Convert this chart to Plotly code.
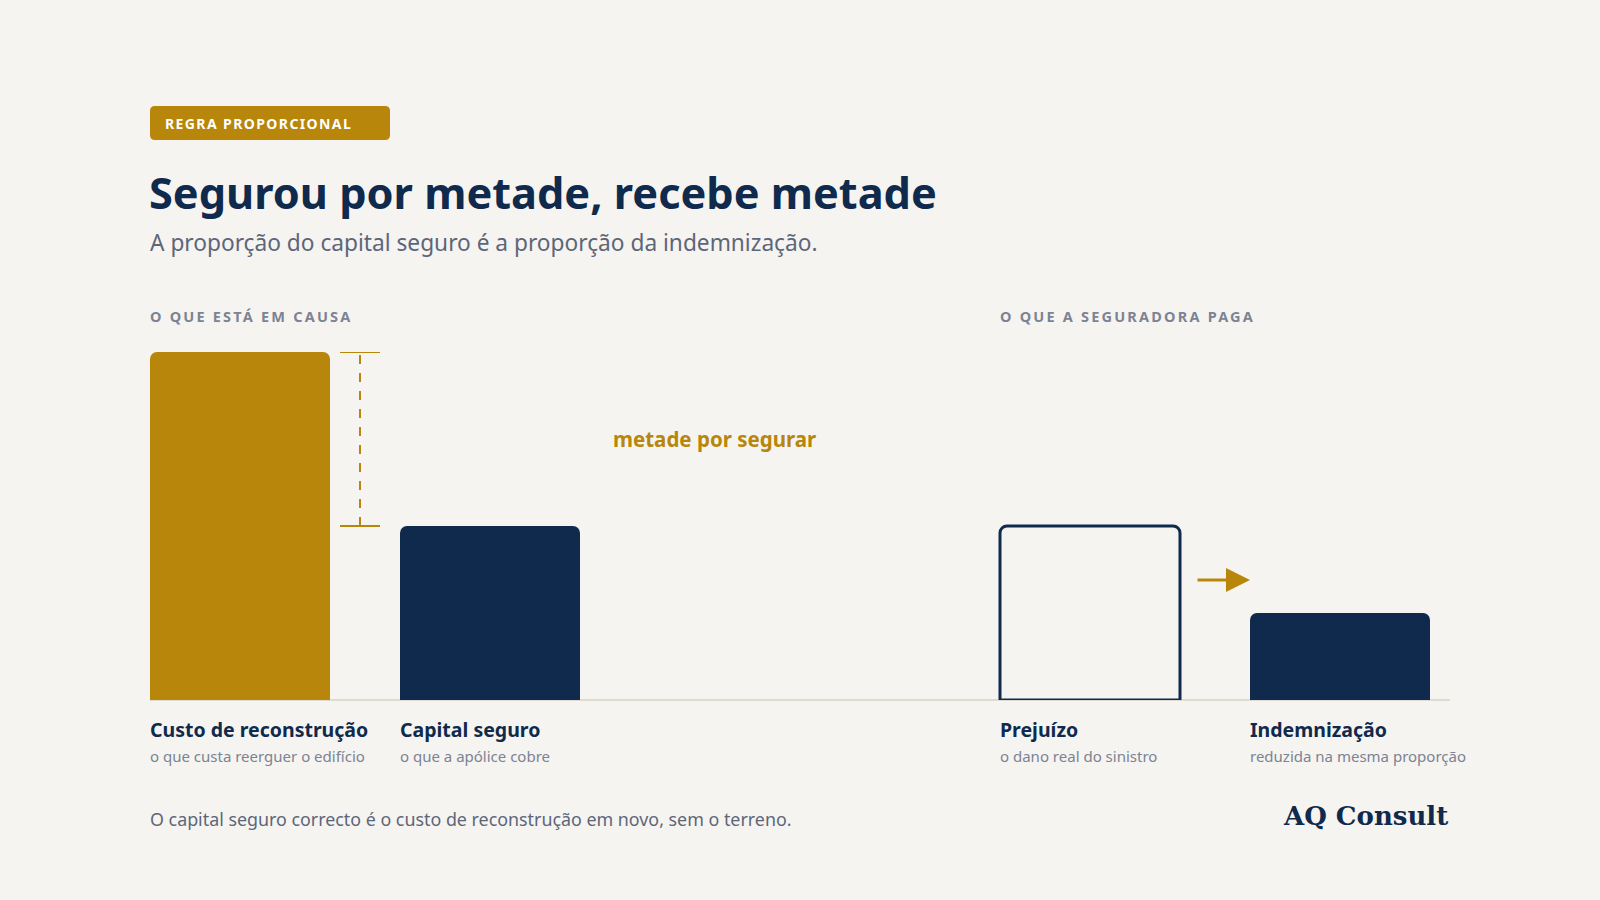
import plotly.graph_objects as go
import json

# ---- data ----
left_categories = ["Custo de reconstrução", "Capital seguro"]
left_values = [400, 200]            # milhares de euros (ilustrativo)
left_notes = ["o que custa reerguer o edifício", "o que a apólice cobre"]

right_categories = ["Prejuízo", "Indemnização"]
right_values = [200, 100]
right_notes = ["o dano real do sinistro", "reduzida na mesma proporção"]

tag_text = "REGRA PROPORCIONAL"
title_text = "Segurou por metade, recebe metade"
subtitle_text = "A proporção do capital seguro é a proporção da indemnização."
left_header = "O QUE ESTÁ EM CAUSA"
right_header = "O QUE A SEGURADORA PAGA"
gap_label = "metade por segurar"
footnote = "O capital seguro correcto é o custo de reconstrução em novo, sem o terreno."
brand = "AQ Consult"

# ---- styles ----
BG = "#f6f4f0"
GOLD = "#b8860b"
NAVY = "#0f2a4d"
GREY = "#5d6679"
LIGHTGREY = "#7b8394"
BASE = "#dedbd0"
FONT = "Noto Sans"

W, H = 1600, 900
def px(x):
    return x / W
def py(y):
    return 1 - y / H

fig = go.Figure()

fig.add_trace(go.Bar(
    x=left_categories, y=left_values, xaxis="x", yaxis="y",
    marker=dict(color=[GOLD, NAVY], line=dict(width=0), cornerradius=7),
    hoverinfo="skip", showlegend=False,
))
fig.add_trace(go.Bar(
    x=right_categories, y=right_values, xaxis="x2", yaxis="y2",
    marker=dict(color=[BG, NAVY], line=dict(color=[NAVY, NAVY], width=[3, 0]),
                cornerradius=7),
    hoverinfo="skip", showlegend=False,
))

ymax = max(left_values)
ydom = [py(700), py(352)]
axis_common = dict(showgrid=False, zeroline=False, showticklabels=False,
                   showline=False, ticks="", fixedrange=True)
fig.update_layout(
    width=W, height=H,
    margin=dict(l=0, r=0, t=0, b=0),
    paper_bgcolor=BG, plot_bgcolor="rgba(0,0,0,0)",
    bargap=0.28,
    xaxis=dict(domain=[px(115), px(615)], range=[-0.5, 1.5], **axis_common),
    yaxis=dict(domain=ydom, range=[0, ymax], **axis_common),
    xaxis2=dict(domain=[px(965), px(1465)], range=[-0.5, 1.5], **axis_common),
    yaxis2=dict(domain=ydom, range=[0, ymax], anchor="x2", **axis_common),
    font=dict(family=FONT),
)

shapes = []
# baseline
shapes.append(dict(type="line", xref="paper", yref="paper",
                   x0=px(150), x1=px(1450), y0=py(700), y1=py(700),
                   line=dict(color=BASE, width=2), layer="below"))
# bracket showing uninsured half
bx = 360
shapes.append(dict(type="line", xref="paper", yref="y",
                   x0=px(bx), x1=px(bx), y0=left_values[1], y1=left_values[0],
                   line=dict(color=GOLD, width=2, dash="dash")))
for v in (left_values[0], left_values[1]):
    shapes.append(dict(type="line", xref="paper", yref="y",
                       x0=px(340), x1=px(380), y0=v, y1=v,
                       line=dict(color=GOLD, width=2)))
# tag badge (rounded rect)
x0, x1, y0, y1, r = px(150), px(390), py(140), py(106), 5
rx, ry = r / W, r / H
path = (f"M {x0+rx},{y0} L {x1-rx},{y0} Q {x1},{y0} {x1},{y0+ry} "
        f"L {x1},{y1-ry} Q {x1},{y1} {x1-rx},{y1} L {x0+rx},{y1} "
        f"Q {x0},{y1} {x0},{y1-ry} L {x0},{y0+ry} Q {x0},{y0} {x0+rx},{y0} Z")
shapes.append(dict(type="path", xref="paper", yref="paper", path=path,
                   fillcolor=GOLD, line=dict(width=0)))
fig.update_layout(shapes=shapes)

ann = []
def text(x, y, s, size, color, bold=False, family=FONT, xanchor="left"):
    ann.append(dict(xref="paper", yref="paper", x=px(x), y=py(y), text=s,
                    showarrow=False, xanchor=xanchor, yanchor="middle",
                    align="left" if xanchor == "left" else "right",
                    font=dict(size=size, color=color, family=family,
                              weight=700 if bold else 400)))

text(163, 123, tag_text, 14, "#ffffff", bold=True)
text(147, 192, title_text, 43.3, NAVY, bold=True)
text(148, 242, subtitle_text, 22.7, GREY)
text(148, 316, left_header, 14.5, LIGHTGREY, bold=True)
text(998, 316, right_header, 14.5, LIGHTGREY, bold=True)
text(611, 439, gap_label, 20.5, GOLD, bold=True)

label_x = [150, 400, 1000, 1250]
for x, lab, note in zip(label_x, left_categories + right_categories,
                        left_notes + right_notes):
    text(x - 2, 729, lab, 19.5, NAVY, bold=True)
    text(x - 2, 756, note, 15, LIGHTGREY)

text(148, 819, footnote, 17.85, GREY)
text(1450, 816, brand, 26, NAVY, bold=True, family="DejaVu Serif", xanchor="right")

# arrow from damage to indemnity
ann.append(dict(xref="paper", yref="paper", x=px(1250), y=py(580),
                ax=-54, ay=0, text="", showarrow=True,
                arrowhead=2, arrowsize=1.6, arrowwidth=3, arrowcolor=GOLD))
fig.update_layout(annotations=ann)

spacing = {tag_text: "1.4px", left_header: "2.2px", right_header: "2.2px"}
post = (
    "document.body.style.margin='0';"
    "var sp=" + json.dumps(spacing) + ";"
    "document.querySelectorAll('text.annotation-text').forEach(function(t){"
    "if(sp[t.textContent]){t.setAttribute('letter-spacing',sp[t.textContent]);}});"
)
fig.write_html("out.html", post_script=post, config={"displayModeBar": False})
